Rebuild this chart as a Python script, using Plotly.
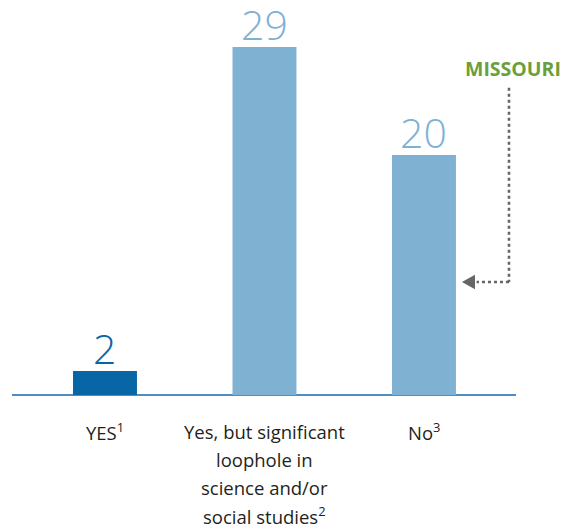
import plotly.graph_objects as go

# Data
categories = ["YES", "Yes, but significant loophole in science and/or social studies", "No"]
label_lines = [
    ["YES<sup>1</sup>"],
    ["Yes, but significant", "loophole in", "science and/or", "social studies<sup>2</sup>"],
    ["No<sup>3</sup>"],
]
counts = [2, 29, 20]
bar_colors = ["#0866a6", "#7fb1d3", "#7fb1d3"]
highlight_label = "MISSOURI"
highlight_index = 2

FONT = "Open Sans"
x_pos = list(range(len(categories)))
PLOT_H = 395  # plot area height in px

fig = go.Figure()
fig.add_trace(go.Bar(
    x=x_pos,
    y=counts,
    width=0.401,
    marker=dict(color=bar_colors, line=dict(width=0)),
    hoverinfo="skip",
))

annotations = []

# Value labels above each bar (box trimmed to the digit height)
for i, v in enumerate(counts):
    annotations.append(dict(
        x=x_pos[i], y=v, xref="x", yref="y",
        text=str(v), showarrow=False, xanchor="center", yanchor="bottom",
        valign="bottom", height=44, yshift=-7,
        font=dict(family=FONT, size=41, color=bar_colors[i], weight=300),
    ))

# Category labels, one annotation per line for wider line spacing
for i, lines in enumerate(label_lines):
    for j, txt in enumerate(lines):
        annotations.append(dict(
            x=x_pos[i], y=-(36.5 + 28 * j) / PLOT_H, xref="x", yref="paper",
            text=txt, showarrow=False, xanchor="center", yanchor="middle",
            font=dict(family=FONT, size=18.5, color="#231f20"),
        ))

# Highlight callout label
annotations.append(dict(
    x=highlight_index + 0.558, y=27.2, xref="x", yref="y",
    text=f"<b>{highlight_label}</b>", showarrow=False,
    xanchor="center", yanchor="middle",
    font=dict(family=FONT, size=19.5, color="#6c9f3b"),
))

# Dotted elbow connector pointing at the highlighted bar
vx = highlight_index + 0.533
top_y = 25.6
elbow_y = 9.42
head_base_x = highlight_index + 0.320
tip_x = highlight_index + 0.238
shapes = [
    dict(type="line", xref="x", yref="y", x0=vx, x1=vx, y0=top_y, y1=elbow_y,
         line=dict(color="#666666", width=2.6, dash="dot")),
    dict(type="line", xref="x", yref="y", x0=vx, x1=head_base_x + 0.01, y0=elbow_y, y1=elbow_y,
         line=dict(color="#666666", width=2.6, dash="dot")),
    dict(type="path", xref="x", yref="y",
         path=f"M {tip_x} {elbow_y} L {head_base_x} {elbow_y + 0.6} L {head_base_x} {elbow_y - 0.6} Z",
         fillcolor="#666666", line=dict(width=0)),
]

fig.update_layout(
    width=574, height=529,
    margin=dict(l=12, r=58, t=0, b=134, pad=0),
    paper_bgcolor="white", plot_bgcolor="white",
    showlegend=False,
    annotations=annotations,
    shapes=shapes,
    xaxis=dict(range=[-0.583, 2.577], showticklabels=False, showgrid=False,
               zeroline=False, showline=False, ticks="", fixedrange=True),
    yaxis=dict(range=[0, PLOT_H / 12.0], showticklabels=False, showgrid=False,
               zeroline=True, zerolinecolor="#4f8cc2", zerolinewidth=2,
               showline=False, ticks="", fixedrange=True),
)

fig.write_html("out.html", config={"displayModeBar": False})
